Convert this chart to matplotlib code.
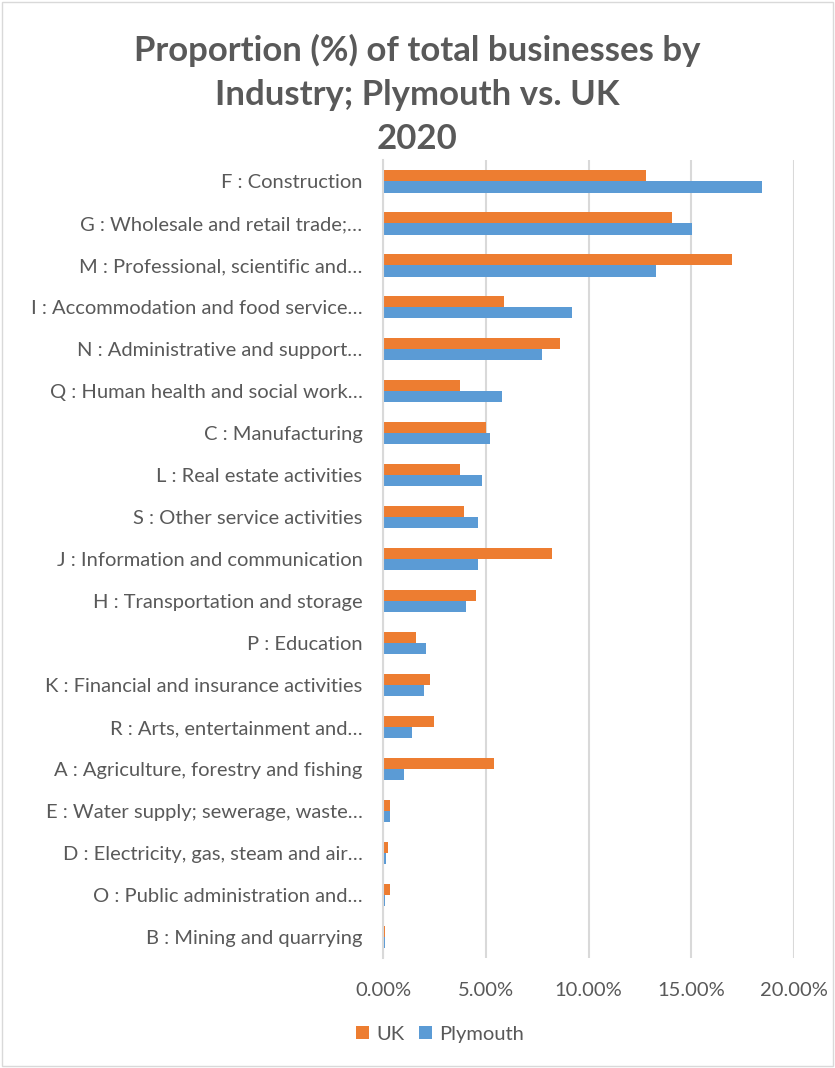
import numpy as np
import matplotlib
matplotlib.use("Agg")
from matplotlib import pyplot as plt
from matplotlib.ticker import PercentFormatter

# Industry categories, top to bottom as drawn
industries = [
    "F : Construction",
    "G : Wholesale and retail trade;\u2026",
    "M : Professional, scientific and\u2026",
    "I : Accommodation and food service\u2026",
    "N : Administrative and support\u2026",
    "Q : Human health and social work\u2026",
    "C : Manufacturing",
    "L : Real estate activities",
    "S : Other service activities",
    "J : Information and communication",
    "H : Transportation and storage",
    "P : Education",
    "K : Financial and insurance activities",
    "R : Arts, entertainment and\u2026",
    "A : Agriculture, forestry and fishing",
    "E : Water supply; sewerage, waste\u2026",
    "D : Electricity, gas, steam and air\u2026",
    "O : Public administration and\u2026",
    "B : Mining and quarrying",
]

# share of total businesses (%)
uk = [12.8, 14.05, 16.98, 5.87, 8.6, 3.73, 4.99, 3.73, 3.92, 8.21,
      4.51, 1.58, 2.26, 2.46, 5.38, 0.32, 0.22, 0.32, 0.08]
plymouth = [18.44, 15.03, 13.27, 9.18, 7.72, 5.77, 5.19, 4.8, 4.6, 4.6,
            4.02, 2.07, 1.97, 1.39, 1.0, 0.32, 0.12, 0.08, 0.08]

plt.rcParams['font.family'] = ['Lato', 'DejaVu Sans']
grey = '#595959'

fig = plt.figure(figsize=(8.35, 10.68), dpi=100)
ax = fig.add_axes([0.459, 0.103, 0.492, 0.747])

y = np.arange(len(industries))
h = 0.27
ax.barh(y - h / 2, uk, height=h, color='#ed7d31', label='UK')
ax.barh(y + h / 2, plymouth, height=h, color='#5b9bd5', label='Plymouth')

ax.set_ylim(len(industries) - 0.5, -0.5)
ax.set_xlim(0, 20)
ax.set_xticks([0, 5, 10, 15, 20])
ax.xaxis.set_major_formatter(PercentFormatter(decimals=2))
ax.set_yticks(y)
ax.set_yticklabels(industries)

ax.grid(axis='x', color='#d9d9d9', linewidth=1.5)
ax.set_axisbelow(True)
for s in ['top', 'right', 'bottom']:
    ax.spines[s].set_visible(False)
ax.spines['left'].set_color('#d9d9d9')
ax.spines['left'].set_linewidth(1.5)
ax.tick_params(length=0, colors=grey, labelsize=14.5)
ax.tick_params(axis='y', pad=15)
ax.tick_params(axis='x', pad=17)

fig.text(0.5, 0.968, "Proportion (%) of total businesses by\nIndustry; Plymouth vs. UK\n2020",
         ha='center', va='top', fontsize=25, fontweight='bold', color=grey,
         linespacing=1.45)

ax.legend(loc='upper left', bbox_to_anchor=(-0.11, -0.062), ncol=2, frameon=False,
          fontsize=14.5, labelcolor=grey, handlelength=0.65, handleheight=0.65,
          columnspacing=0.7, handletextpad=0.35)

fig.patches.append(plt.Rectangle((0.002, 0.002), 0.996, 0.996, transform=fig.transFigure,
                                 fill=False, edgecolor='#d9d9d9', linewidth=1))

fig.savefig('out.png', dpi=100)
